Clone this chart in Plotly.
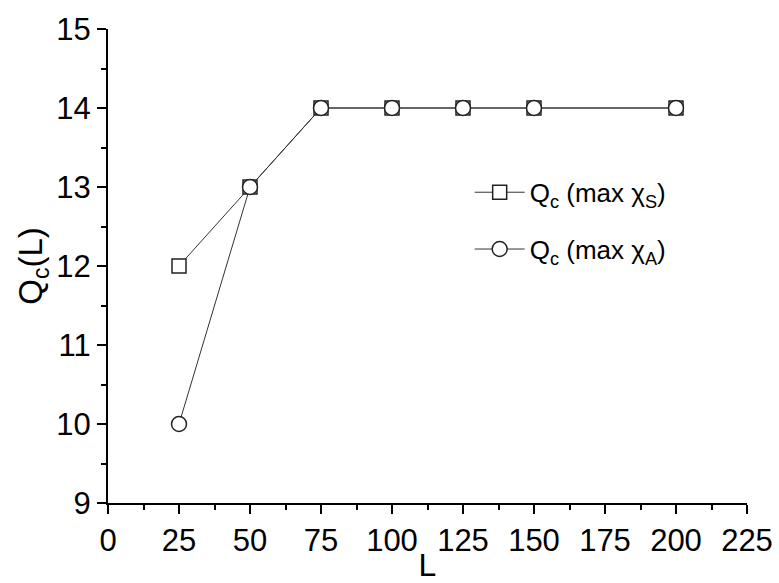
import plotly.graph_objects as go

# Critical charge Q_c versus system size L
L_vals = [25, 50, 75, 100, 125, 150, 200]
qc_sym = [12, 13, 14, 14, 14, 14, 14]    # from max chi_S
qc_anti = [10, 13, 14, 14, 14, 14, 14]   # from max chi_A

x_ticks = [0, 25, 50, 75, 100, 125, 150, 175, 200, 225]
y_ticks = [9, 10, 11, 12, 13, 14, 15]

FONT = "Liberation Sans, Arial, sans-serif"
line_style = dict(color="#333333", width=1)

fig = go.Figure()
fig.add_trace(go.Scatter(
    x=L_vals, y=qc_sym, mode="lines+markers",
    name="Q<sub>c</sub> (max χ<sub>S</sub>)", legendgroup="s",
    line=line_style,
    marker=dict(symbol="square", size=14, color="white",
                line=dict(color="#222222", width=1.5)),
))
fig.add_trace(go.Scatter(
    x=L_vals, y=qc_anti, mode="lines+markers",
    name="Q<sub>c</sub> (max χ<sub>A</sub>)", legendgroup="a",
    line=line_style,
    marker=dict(symbol="circle", size=15, color="white",
                line=dict(color="#222222", width=1.5)),
))

tick_font = dict(family=FONT, size=31, color="black")
common = dict(showline=True, linecolor="black", linewidth=2, automargin=False,
              showgrid=False, zeroline=False, tickcolor="black", tickwidth=1.5)

fig.update_layout(
    width=779, height=583,
    margin=dict(l=108, r=32, t=29, b=80),
    paper_bgcolor="white", plot_bgcolor="white",
    font=dict(family=FONT, color="black"),
    showlegend=True,
    legend=dict(x=0.566, y=0.705, xanchor="left", yanchor="top",
                font=dict(family=FONT, size=26, color="black"),
                bgcolor="rgba(0,0,0,0)", tracegroupgap=20,
                traceorder="grouped", itemwidth=50),
    xaxis=dict(range=[0, 225], tickvals=x_ticks, ticks="outside", ticklen=9,
               tickfont=tick_font,
               minor=dict(dtick=12.5, tick0=0, ticks="outside", ticklen=5,
                          tickcolor="black", tickwidth=1.5),
               title=dict(text="L", font=dict(family=FONT, size=32), standoff=3),
               **common),
    yaxis=dict(range=[9, 15], tickvals=y_ticks, ticks="outside", ticklen=9,
               tickfont=tick_font,
               minor=dict(dtick=0.5, tick0=9, ticks="outside", ticklen=5,
                          tickcolor="black", tickwidth=1.5),
               title=dict(text="Q<sub>c</sub>(L)", font=dict(family=FONT, size=33),
                          standoff=4),
               **common),
    # inward ticks on the top and right frame edges
    xaxis2=dict(range=[0, 225], overlaying="x", side="top", anchor="y",
                tickvals=x_ticks, ticks="inside", ticklen=9, showticklabels=False,
                minor=dict(dtick=12.5, tick0=0, ticks="inside", ticklen=5,
                           tickcolor="black", tickwidth=1.5),
                **common),
    yaxis2=dict(range=[9, 15], overlaying="y", side="right", anchor="x",
                tickvals=y_ticks, ticks="inside", ticklen=9, showticklabels=False,
                minor=dict(dtick=0.5, tick0=9, ticks="inside", ticklen=5,
                           tickcolor="black", tickwidth=1.5),
                **common),
)

fig.write_html("out.html")
